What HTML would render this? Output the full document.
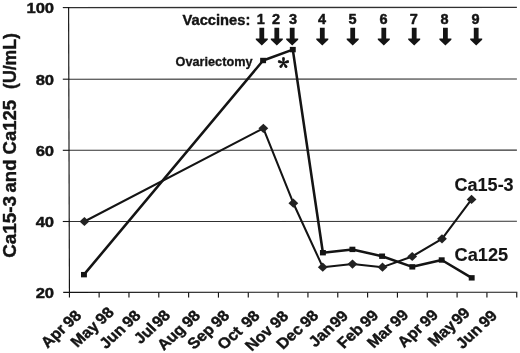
<!DOCTYPE html><html><head><meta charset="utf-8"><title>Ca15-3 and Ca125</title>
<style>html,body{margin:0;padding:0;background:#fff;}svg{display:block;}text{font-family:"Liberation Sans",Arial,sans-serif;font-weight:bold;fill:#141414;stroke:#141414;stroke-width:0.45px;stroke-linejoin:round;}</style></head><body>
<svg width="520" height="353" viewBox="0 0 520 353">
<rect width="520" height="353" fill="#fff"/>
<line x1="69" y1="7.60" x2="516.9" y2="7.40" stroke="#303030" stroke-width="1.3"/>
<line x1="69" y1="79.20" x2="516.9" y2="79.00" stroke="#303030" stroke-width="1.05"/>
<line x1="69" y1="150.30" x2="516.9" y2="150.10" stroke="#303030" stroke-width="1.05"/>
<line x1="69" y1="221.50" x2="516.9" y2="221.30" stroke="#303030" stroke-width="1.05"/>
<line x1="68.6" y1="7" x2="69.45" y2="297.6" stroke="#141414" stroke-width="1.15"/>
<line x1="63.2" y1="292.4" x2="517.3" y2="292.2" stroke="#141414" stroke-width="1.1"/>
<line x1="62.8" y1="7.60" x2="69.2" y2="7.60" stroke="#141414" stroke-width="1.1"/>
<line x1="62.8" y1="79.20" x2="69.2" y2="79.20" stroke="#141414" stroke-width="1.1"/>
<line x1="62.8" y1="150.30" x2="69.2" y2="150.30" stroke="#141414" stroke-width="1.1"/>
<line x1="62.8" y1="221.50" x2="69.2" y2="221.50" stroke="#141414" stroke-width="1.1"/>
<line x1="99.13" y1="292.4" x2="99.13" y2="297.59999999999997" stroke="#141414" stroke-width="1.15"/>
<line x1="128.96" y1="292.4" x2="128.96" y2="297.59999999999997" stroke="#141414" stroke-width="1.15"/>
<line x1="158.79" y1="292.4" x2="158.79" y2="297.59999999999997" stroke="#141414" stroke-width="1.15"/>
<line x1="188.62" y1="292.4" x2="188.62" y2="297.59999999999997" stroke="#141414" stroke-width="1.15"/>
<line x1="218.45" y1="292.4" x2="218.45" y2="297.59999999999997" stroke="#141414" stroke-width="1.15"/>
<line x1="248.28" y1="292.4" x2="248.28" y2="297.59999999999997" stroke="#141414" stroke-width="1.15"/>
<line x1="278.11" y1="292.4" x2="278.11" y2="297.59999999999997" stroke="#141414" stroke-width="1.15"/>
<line x1="307.94" y1="292.4" x2="307.94" y2="297.59999999999997" stroke="#141414" stroke-width="1.15"/>
<line x1="337.77" y1="292.4" x2="337.77" y2="297.59999999999997" stroke="#141414" stroke-width="1.15"/>
<line x1="367.60" y1="292.4" x2="367.60" y2="297.59999999999997" stroke="#141414" stroke-width="1.15"/>
<line x1="397.43" y1="292.4" x2="397.43" y2="297.59999999999997" stroke="#141414" stroke-width="1.15"/>
<line x1="427.26" y1="292.4" x2="427.26" y2="297.59999999999997" stroke="#141414" stroke-width="1.15"/>
<line x1="457.09" y1="292.4" x2="457.09" y2="297.59999999999997" stroke="#141414" stroke-width="1.15"/>
<line x1="486.92" y1="292.4" x2="486.92" y2="297.59999999999997" stroke="#141414" stroke-width="1.15"/>
<line x1="516.75" y1="292.4" x2="516.75" y2="297.59999999999997" stroke="#141414" stroke-width="1.15"/>
<text class="yl" transform="translate(54.1,13.30) scale(1.085,1)" font-size="15.3" text-anchor="end">100</text>
<text class="yl" transform="translate(54.1,84.90) scale(1.085,1)" font-size="15.3" text-anchor="end">80</text>
<text class="yl" transform="translate(54.1,156.00) scale(1.085,1)" font-size="15.3" text-anchor="end">60</text>
<text class="yl" transform="translate(54.1,227.20) scale(1.085,1)" font-size="15.3" text-anchor="end">40</text>
<text class="yl" transform="translate(54.1,298.10) scale(1.085,1)" font-size="15.3" text-anchor="end">20</text>
<text class="yt" transform="translate(15.9,257.8) rotate(-90) scale(1.07,1)" font-size="17.6" style="stroke-width:0.4px">Ca15-3</text>
<text class="yt" transform="translate(15.9,99.9) rotate(-90) scale(1.052,1)" font-size="17.6" text-anchor="end" style="stroke-width:0.4px">and Ca125</text>
<text class="yt" transform="translate(15.9,89.0) rotate(-90)" font-size="17.7" style="stroke-width:0.4px">(U/mL)</text>
<text class="xl" transform="translate(82.47,316.46) scale(1.085,1) rotate(-45)" font-size="15.1" text-anchor="end" style="stroke-width:0.42px">Apr<tspan dx="-1.25"> 98</tspan></text>
<text class="xl" transform="translate(114.97,313.36) scale(1.085,1) rotate(-45)" font-size="15.1" text-anchor="end" style="stroke-width:0.42px">May<tspan dx="-1.34"> 98</tspan></text>
<text class="xl" transform="translate(141.62,316.46) scale(1.085,1) rotate(-45)" font-size="15.1" text-anchor="end" style="stroke-width:0.42px">Jun<tspan dx="-1.27"> 98</tspan></text>
<text class="xl" transform="translate(171.27,316.21) scale(1.085,1) rotate(-45)" font-size="15.1" text-anchor="end" style="stroke-width:0.42px">Jul<tspan dx="-2.64"> 98</tspan></text>
<text class="xl" transform="translate(201.27,316.46) scale(1.085,1) rotate(-45)" font-size="15.1" text-anchor="end" style="stroke-width:0.42px">Aug<tspan dx="-1.33"> 98</tspan></text>
<text class="xl" transform="translate(230.37,316.46) scale(1.085,1) rotate(-45)" font-size="15.1" text-anchor="end" style="stroke-width:0.42px">Sep<tspan dx="-1.29"> 98</tspan></text>
<text class="xl" transform="translate(260.62,316.71) scale(1.085,1) rotate(-45)" font-size="15.1" text-anchor="end" style="stroke-width:0.42px">Oct<tspan dx="1.48"> 98</tspan></text>
<text class="xl" transform="translate(289.37,317.06) scale(1.085,1) rotate(-45)" font-size="15.1" text-anchor="end" style="stroke-width:0.42px">Nov<tspan dx="-0.51"> 98</tspan></text>
<text class="xl" transform="translate(319.37,316.46) scale(1.085,1) rotate(-45)" font-size="15.1" text-anchor="end" style="stroke-width:0.42px">Dec<tspan dx="-1.29"> 98</tspan></text>
<text class="xl" transform="translate(349.12,316.71) scale(1.085,1) rotate(-45)" font-size="15.1" text-anchor="end" style="stroke-width:0.42px">Jan<tspan dx="-2.94"> 99</tspan></text>
<text class="xl" transform="translate(379.37,316.21) scale(1.085,1) rotate(-45)" font-size="15.1" text-anchor="end" style="stroke-width:0.42px">Feb<tspan dx="-1.27"> 99</tspan></text>
<text class="xl" transform="translate(409.37,315.86) scale(1.085,1) rotate(-45)" font-size="15.1" text-anchor="end" style="stroke-width:0.42px">Mar<tspan dx="-1.26"> 99</tspan></text>
<text class="xl" transform="translate(439.12,315.86) scale(1.085,1) rotate(-45)" font-size="15.1" text-anchor="end" style="stroke-width:0.42px">Apr<tspan dx="-1.25"> 99</tspan></text>
<text class="xl" transform="translate(470.87,313.71) scale(1.085,1) rotate(-45)" font-size="15.1" text-anchor="end" style="stroke-width:0.42px">May<tspan dx="-2.84"> 99</tspan></text>
<text class="xl" transform="translate(498.12,316.46) scale(1.085,1) rotate(-45)" font-size="15.1" text-anchor="end" style="stroke-width:0.42px">Jun<tspan dx="-1.27"> 99</tspan></text>
<polyline points="84.40,221.50 263.35,128.30 293.35,203.20 322.75,267.15 352.50,264.05 382.50,267.15 412.20,256.50 442.00,238.85 471.55,199.40" fill="none" stroke="#141414" stroke-width="2.05" stroke-linejoin="round"/>
<polyline points="83.95,274.65 263.10,60.50 292.80,49.60 322.90,252.70 352.40,249.40 382.10,256.20 412.30,266.85 441.70,260.00 471.70,277.85" fill="none" stroke="#141414" stroke-width="2.55" stroke-linejoin="round"/>
<polygon points="79.50,221.50 84.40,216.90 89.30,221.50 84.40,226.10" fill="#222"/>
<polygon points="258.45,128.30 263.35,123.70 268.25,128.30 263.35,132.90" fill="#222"/>
<polygon points="288.45,203.20 293.35,198.60 298.25,203.20 293.35,207.80" fill="#222"/>
<polygon points="317.85,267.15 322.75,262.55 327.65,267.15 322.75,271.75" fill="#222"/>
<polygon points="347.60,264.05 352.50,259.45 357.40,264.05 352.50,268.65" fill="#222"/>
<polygon points="377.60,267.15 382.50,262.55 387.40,267.15 382.50,271.75" fill="#222"/>
<polygon points="407.30,256.50 412.20,251.90 417.10,256.50 412.20,261.10" fill="#222"/>
<polygon points="437.10,238.85 442.00,234.25 446.90,238.85 442.00,243.45" fill="#222"/>
<polygon points="466.65,199.40 471.55,194.80 476.45,199.40 471.55,204.00" fill="#222"/>
<rect x="81.00" y="271.95" width="5.9" height="5.4" fill="#141414"/>
<rect x="260.15" y="57.80" width="5.9" height="5.4" fill="#141414"/>
<rect x="289.85" y="46.90" width="5.9" height="5.4" fill="#141414"/>
<rect x="319.95" y="250.00" width="5.9" height="5.4" fill="#141414"/>
<rect x="349.45" y="246.70" width="5.9" height="5.4" fill="#141414"/>
<rect x="379.15" y="253.50" width="5.9" height="5.4" fill="#141414"/>
<rect x="409.35" y="264.15" width="5.9" height="5.4" fill="#141414"/>
<rect x="438.75" y="257.30" width="5.9" height="5.4" fill="#141414"/>
<rect x="468.75" y="275.15" width="5.9" height="5.4" fill="#141414"/>
<text class="an" transform="translate(182.5,24.7) scale(1.065,1)" font-size="13.8" style="stroke-width:0.38px">Vaccines:</text>
<text class="num" transform="translate(260.7,24.0) scale(1.05,1)" font-size="13.8" text-anchor="middle">1</text>
<path d="M259.40000000000003,27.8 H264.2 V38.5 H267.8 V39.8 L261.8,45.4 L255.8,39.8 V38.5 H259.40000000000003 Z" fill="#141414"/>
<text class="num" transform="translate(276.1,24.0) scale(1.05,1)" font-size="13.8" text-anchor="middle">2</text>
<path d="M274.40000000000003,27.8 H279.2 V38.5 H282.8 V39.8 L276.8,45.4 L270.8,39.8 V38.5 H274.40000000000003 Z" fill="#141414"/>
<text class="num" transform="translate(292.9,24.0) scale(1.05,1)" font-size="13.8" text-anchor="middle">3</text>
<path d="M289.8,27.8 H294.59999999999997 V38.5 H298.2 V39.8 L292.2,45.4 L286.2,39.8 V38.5 H289.8 Z" fill="#141414"/>
<text class="num" transform="translate(321.9,24.0) scale(1.05,1)" font-size="13.8" text-anchor="middle">4</text>
<path d="M319.90000000000003,27.8 H324.7 V38.5 H328.3 V39.8 L322.3,45.4 L316.3,39.8 V38.5 H319.90000000000003 Z" fill="#141414"/>
<text class="num" transform="translate(352.4,24.0) scale(1.05,1)" font-size="13.8" text-anchor="middle">5</text>
<path d="M350.3,27.8 H355.09999999999997 V38.5 H358.7 V39.8 L352.7,45.4 L346.7,39.8 V38.5 H350.3 Z" fill="#141414"/>
<text class="num" transform="translate(383.5,24.0) scale(1.05,1)" font-size="13.8" text-anchor="middle">6</text>
<path d="M381.40000000000003,27.8 H386.2 V38.5 H389.8 V39.8 L383.8,45.4 L377.8,39.8 V38.5 H381.40000000000003 Z" fill="#141414"/>
<text class="num" transform="translate(413.75,24.0) scale(1.05,1)" font-size="13.8" text-anchor="middle">7</text>
<path d="M411.8,27.8 H416.59999999999997 V38.5 H420.2 V39.8 L414.2,45.4 L408.2,39.8 V38.5 H411.8 Z" fill="#141414"/>
<text class="num" transform="translate(444.6,24.0) scale(1.05,1)" font-size="13.8" text-anchor="middle">8</text>
<path d="M443.0,27.8 H447.79999999999995 V38.5 H451.4 V39.8 L445.4,45.4 L439.4,39.8 V38.5 H443.0 Z" fill="#141414"/>
<text class="num" transform="translate(475.4,24.0) scale(1.05,1)" font-size="13.8" text-anchor="middle">9</text>
<path d="M473.8,27.8 H478.59999999999997 V38.5 H482.2 V39.8 L476.2,45.4 L470.2,39.8 V38.5 H473.8 Z" fill="#141414"/>
<text class="an" transform="translate(252.5,65.5) scale(1.05,1)" font-size="12.1" text-anchor="end" style="stroke-width:0.3px">Ovariectomy</text>
<text class="ast" x="283.4" y="76.6" font-size="23.5" text-anchor="middle" style="font-family:'Noto Serif CJK SC','Liberation Serif',serif;stroke-width:0.7px">*</text>
<text class="an" x="454.6" y="190.6" font-size="18" style="stroke-width:0.15px">Ca15-3</text>
<text class="an" x="454.6" y="261.1" font-size="18.2" style="stroke-width:0.15px">Ca125</text>
</svg></body></html>
